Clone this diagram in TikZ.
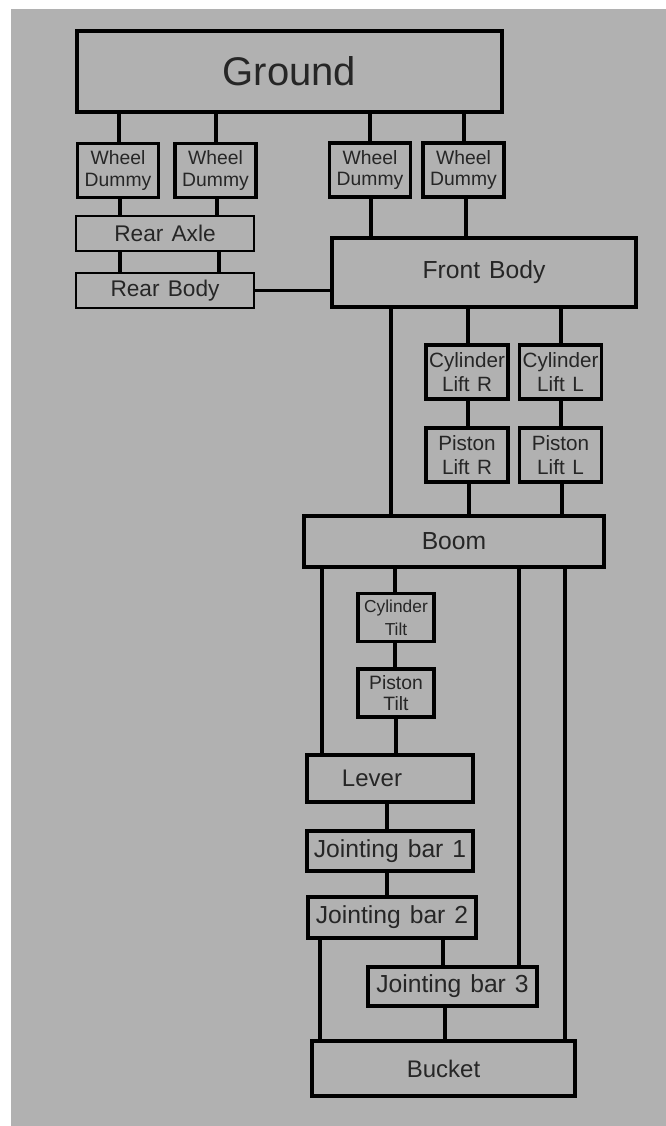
\documentclass[tikz,border=0pt]{standalone}
\usepackage{fontspec}
\setmainfont{Liberation Sans}[WordSpace=1.3]
\definecolor{bggray}{RGB}{177,177,177}
\tikzset{
    part/.style={draw, line width=2.4pt, inner sep=0pt, align=center, text=black!85},
    link/.style={line width=2.3pt},
}

\begin{document}
\begin{tikzpicture}[x=0.75pt, y=-0.75pt]
    \useasboundingbox (0,0) rectangle (666,1126);
    \fill[bggray] (11,9) rectangle (666,1126);
    % Top: ground, wheels and the two bodies.
        \node[part, line width=3.4pt, minimum width=318.75pt, minimum height=60.75pt, font=\fontsize{30}{34}\selectfont] (ground) at (289.5,71.5) {Ground};
        \node[part, line width=2.6pt, minimum width=60.75pt, minimum height=40.5pt, font=\fontsize{14.5}{16}\selectfont] (wd1) at (118,170.5) {Wheel\\Dummy};
        \node[part, line width=2.6pt, minimum width=60.75pt, minimum height=40.5pt, font=\fontsize{14.5}{16}\selectfont] (wd2) at (215.5,170.5) {Wheel\\Dummy};
        \node[part, line width=2.6pt, minimum width=60.75pt, minimum height=40.5pt, font=\fontsize{14.5}{16}\selectfont] (wd3) at (370,170) {Wheel\\Dummy};
        \node[part, line width=2.6pt, minimum width=60.75pt, minimum height=40.5pt, font=\fontsize{14.5}{16}\selectfont] (wd4) at (463.5,170) {Wheel\\Dummy};
        \node[part, line width=1.9pt, minimum width=133.5pt, minimum height=26.25pt, font=\fontsize{17}{19}\selectfont] (axle) at (165,233.5) {Rear Axle};
        \node[part, line width=1.9pt, minimum width=133.5pt, minimum height=26.25pt, font=\fontsize{17}{19}\selectfont] (rbody) at (165,290.5) {Rear Body};
        \node[part, line width=2.6pt, minimum width=228pt, minimum height=51.75pt, font=\fontsize{18.5}{21}\selectfont] (front) at (484,272.5) {Front\ Body};
    % Lift cylinders and boom.
        \node[part, line width=2.6pt, minimum width=61.5pt, minimum height=40.5pt, font=\fontsize{15.5}{17.5}\selectfont] (cylR) at (467,372) {Cylinder\\Lift R};
        \node[part, line width=2.6pt, minimum width=61.5pt, minimum height=40.5pt, font=\fontsize{15.5}{17.5}\selectfont] (cylL) at (560.5,372) {Cylinder\\Lift L};
        \node[part, line width=2.6pt, minimum width=61.5pt, minimum height=40.5pt, font=\fontsize{15.5}{17.5}\selectfont] (pistR) at (467,455) {Piston\\Lift R};
        \node[part, line width=2.6pt, minimum width=61.5pt, minimum height=40.5pt, font=\fontsize{15.5}{17.5}\selectfont] (pistL) at (560.5,455) {Piston\\Lift L};
        \node[part, minimum width=225pt, minimum height=38.25pt, font=\fontsize{18.5}{21}\selectfont] (boom) at (454,541.5) {Boom};
    % Tilt cylinder, lever, bars and bucket.
        \node[part, minimum width=57pt, minimum height=36pt, font=\fontsize{13}{17}\selectfont] (cylT) at (396,617.5) {Cylinder\\Tilt};
        \node[part, minimum width=57pt, minimum height=36pt, font=\fontsize{14.5}{15.5}\selectfont] (pistT) at (396,693) {Piston\\Tilt};
        \node[part, minimum width=124.5pt, minimum height=35.25pt, font=\fontsize{18}{20}\selectfont] (lever) at (390,778.5) {\hbox{Lever\kern27pt}};
        \node[part, minimum width=124.5pt, minimum height=30pt, font=\fontsize{18.5}{21}\selectfont] (jb1) at (390,851) {Jointing bar 1};
        \node[part, minimum width=126pt, minimum height=30.75pt, font=\fontsize{18.5}{21}\selectfont] (jb2) at (392,917.5) {Jointing bar 2};
        \node[part, minimum width=126.75pt, minimum height=29.25pt, font=\fontsize{18.5}{21}\selectfont] (jb3) at (452.5,986.5) {Jointing bar 3};
        \node[part, minimum width=197.25pt, minimum height=41.25pt, font=\fontsize{18}{20}\selectfont] (bucket) at (443.5,1068.5) {Bucket};
    % Below lines are the joints.
        \draw[link] (119,0 |- ground.south) -- (119,0 |- wd1.north);
        \draw[link] (216,0 |- ground.south) -- (216,0 |- wd2.north);
        \draw[link] (370,0 |- ground.south) -- (370,0 |- wd3.north);
        \draw[link] (464,0 |- ground.south) -- (464,0 |- wd4.north);
        \draw[link] (120,0 |- wd1.south) -- (120,0 |- axle.north);
        \draw[link] (217,0 |- wd2.south) -- (217,0 |- axle.north);
        \draw[link] (120,0 |- axle.south) -- (120,0 |- rbody.north);
        \draw[link] (219,0 |- axle.south) -- (219,0 |- rbody.north);
        \draw[link] (371,0 |- wd3.south) -- (371,0 |- front.north);
        \draw[link] (466,0 |- wd4.south) -- (466,0 |- front.north);
        \draw[link] (rbody.east) -- (rbody.east -| front.west);
        \draw[link] (391,0 |- front.south) -- (391,0 |- boom.north);
        \draw[link] (468,0 |- front.south) -- (468,0 |- cylR.north);
        \draw[link] (561,0 |- front.south) -- (561,0 |- cylL.north);
        \draw[link] (468,0 |- cylR.south) -- (468,0 |- pistR.north);
        \draw[link] (561,0 |- cylL.south) -- (561,0 |- pistL.north);
        \draw[link] (469,0 |- pistR.south) -- (469,0 |- boom.north);
        \draw[link] (562,0 |- pistL.south) -- (562,0 |- boom.north);
        \draw[link] (322,0 |- boom.south) -- (322,0 |- lever.north);
        \draw[link] (395,0 |- boom.south) -- (395,0 |- cylT.north);
        \draw[link] (519,0 |- boom.south) -- (519,0 |- jb3.north);
        \draw[link] (565,0 |- boom.south) -- (565,0 |- bucket.north);
        \draw[link] (395,0 |- cylT.south) -- (395,0 |- pistT.north);
        \draw[link] (396,0 |- pistT.south) -- (396,0 |- lever.north);
        \draw[link] (387,0 |- lever.south) -- (387,0 |- jb1.north);
        \draw[link] (387,0 |- jb1.south) -- (387,0 |- jb2.north);
        \draw[link] (320,0 |- jb2.south) -- (320,0 |- bucket.north);
        \draw[link] (443,0 |- jb2.south) -- (443,0 |- jb3.north);
        \draw[link] (445,0 |- jb3.south) -- (445,0 |- bucket.north);
\end{tikzpicture}
\end{document}
